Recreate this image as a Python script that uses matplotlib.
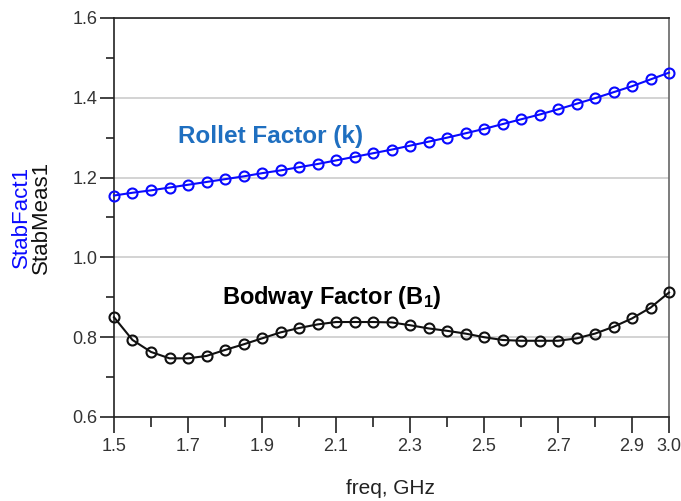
"""
Stability factors (Rollet k and Bodway B1) vs frequency
"""
import matplotlib.pyplot as plt
from matplotlib.ticker import MultipleLocator

plt.rcParams["font.family"] = ["Liberation Sans", "DejaVu Sans"]
plt.rcParams["mathtext.fontset"] = "custom"
plt.rcParams["mathtext.rm"] = "Liberation Sans:bold"
plt.rcParams["mathtext.it"] = "Liberation Sans:bold"

freq = [1.50, 1.55, 1.60, 1.65, 1.70, 1.75, 1.80, 1.85, 1.90, 1.95,
        2.00, 2.05, 2.10, 2.15, 2.20, 2.25, 2.30, 2.35, 2.40, 2.45,
        2.50, 2.55, 2.60, 2.65, 2.70, 2.75, 2.80, 2.85, 2.90, 2.95, 3.00]

stab_fact = [1.155, 1.162, 1.168, 1.175, 1.182, 1.189, 1.196, 1.203, 1.211, 1.218,
             1.226, 1.234, 1.243, 1.252, 1.261, 1.270, 1.280, 1.290, 1.300, 1.311,
             1.322, 1.334, 1.346, 1.358, 1.371, 1.385, 1.399, 1.414, 1.429, 1.446, 1.463]

stab_meas = [0.850, 0.793, 0.763, 0.747, 0.747, 0.753, 0.768, 0.782, 0.797, 0.812,
             0.823, 0.832, 0.838, 0.838, 0.838, 0.837, 0.830, 0.822, 0.816, 0.809,
             0.800, 0.793, 0.791, 0.791, 0.791, 0.797, 0.809, 0.826, 0.847, 0.874, 0.912]

xtick_labels = ["1.5", "1.7", "1.9", "2.1", "2.3", "2.5", "2.7", "2.9", "3.0"]
ytick_labels = ["0.6", "0.8", "1.0", "1.2", "1.4", "1.6"]

fig = plt.figure(figsize=(6.81, 5.01), dpi=100)
ax = fig.add_axes([0.1674, 0.1677, 0.815, 0.7964])

ax.plot(freq, stab_fact, color="#0a0aff", linewidth=1.5, marker="o",
        markersize=7.2, markerfacecolor="none", markeredgewidth=1.5, clip_on=False, zorder=3)
ax.plot(freq, stab_meas, color="#111111", linewidth=1.5, marker="o",
        markersize=7.2, markerfacecolor="none", markeredgewidth=1.5, clip_on=False, zorder=3)

ax.set_xlim(1.5, 3.0)
ax.set_ylim(0.6, 1.6)
ax.set_xticks([float(t) for t in xtick_labels])
ax.set_xticklabels(xtick_labels)
ax.xaxis.set_minor_locator(MultipleLocator(0.1))
ax.set_yticks([float(t) for t in ytick_labels])
ax.set_yticklabels(ytick_labels)
ax.yaxis.set_minor_locator(MultipleLocator(0.1))

ax.grid(axis="y", which="major", color="#cccccc", linewidth=1.2)
ax.set_axisbelow(True)

ax.tick_params(axis="both", which="major", labelsize=13, labelcolor="#333333",
               color="#222222", width=1.2)
ax.tick_params(axis="x", which="major", length=11.5, pad=3.5)
ax.tick_params(axis="x", which="minor", length=7.2, width=1.2, color="#222222")
ax.tick_params(axis="y", which="major", length=10, pad=2)
ax.tick_params(axis="y", which="minor", length=5.8, width=1.2, color="#222222")

for side in ["left", "bottom", "top"]:
    ax.spines[side].set_color("#222222")
    ax.spines[side].set_linewidth(1.2)
ax.spines["right"].set_color("#666666")
ax.spines["right"].set_linewidth(1.2)

ax.text(1.922, 1.302, "Rollet Factor (k)", color="#1f6fc0", fontsize=17.5,
        fontweight="bold", ha="center", va="center")
ax.text(2.09, 0.900, "Bodway Factor (B$_1$)", color="black", fontsize=17,
        fontweight="bold", ha="center", va="center")

fig.text(390 / 681, 1 - 488 / 501, "freq, GHz", fontsize=15, color="#222222",
         ha="center", va="center")
fig.text(21 / 681, 1 - 217 / 501, "StabFact1", fontsize=16, color="#0a0aff",
         rotation=90, ha="center", va="center")
fig.text(41 / 681, 1 - 217 / 501, "StabMeas1", fontsize=16, color="#111111",
         rotation=90, ha="center", va="center")

fig.savefig("out.png", dpi=100)
